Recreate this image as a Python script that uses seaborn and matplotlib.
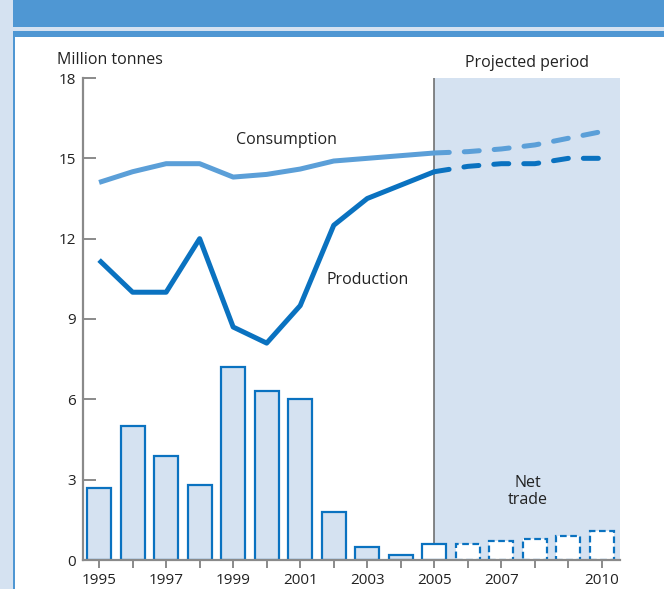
import matplotlib
matplotlib.use("Agg")
import matplotlib.pyplot as plt
from matplotlib.patches import Rectangle
import seaborn as sns
import pandas as pd

# Annual series, million tonnes
years = [1995, 1996, 1997, 1998, 1999, 2000, 2001, 2002, 2003, 2004, 2005,
         2006, 2007, 2008, 2009, 2010]
consumption = [14.1, 14.5, 14.8, 14.8, 14.3, 14.4, 14.6, 14.9, 15.0, 15.1, 15.2,
               15.25, 15.35, 15.5, 15.75, 16.0]
production = [11.2, 10.0, 10.0, 12.0, 8.7, 8.1, 9.5, 12.5, 13.5, 14.0, 14.5,
              14.7, 14.8, 14.8, 15.0, 15.0]
net_trade = [2.7, 5.0, 3.9, 2.8, 7.2, 6.3, 6.0, 1.8, 0.5, 0.2, 0.6,
             0.6, 0.7, 0.8, 0.9, 1.1]
last_actual = 2005
tick_labels = ["1995", "", "1997", "", "1999", "", "2001", "", "2003", "",
               "2005", "", "2007", "", "", "2010"]
y_ticks = [0, 3, 6, 9, 12, 15, 18]

df = pd.DataFrame({"year": years, "consumption": consumption,
                   "production": production, "net_trade": net_trade})
hist = df[df.year <= last_actual]
proj = df[df.year >= last_actual]

sns.set_style("white")
plt.rcParams["font.family"] = ["Open Sans", "DejaVu Sans"]

C_CONS = "#5b9fd8"
C_PROD = "#0a72c0"
C_SHADE = "#d5e2f1"
C_HEAD = "#4f97d3"
C_GREY = "#8a8a8a"
C_TEXT = "#222222"
FS_TICK = 11
FS_NOTE = 11.5

fig = plt.figure(figsize=(6.64, 5.89), dpi=100)
W, H = 664, 589

def px_rect(x0, y0, x1, y1, color):
    fig.patches.append(Rectangle((x0 / W, 1 - y1 / H), (x1 - x0) / W, (y1 - y0) / H,
                                 transform=fig.transFigure, facecolor=color,
                                 edgecolor="none", zorder=-10))

# page frame
px_rect(0, 0, W, H, C_SHADE)
px_rect(13, 0, W, 27, C_HEAD)
px_rect(13, 31, W, 37, C_HEAD)
px_rect(13, 31, 15, H, C_HEAD)
px_rect(15, 37, W, H, "white")

ax = fig.add_axes([83 / W, 1 - 560 / H, (620 - 83) / W, (560 - 78) / H])
ax.set_zorder(5)
ax.set_facecolor("none")
ax.set_axisbelow(False)

x0, x1 = 1994.52, 2010.54
ax.set_xlim(x0, x1)
ax.set_ylim(0, 18)

# projected period shading and divider
ax.axvspan(last_actual, x1, color=C_SHADE, zorder=0, lw=0)
ax.axvline(last_actual, color="#666666", lw=1.1, zorder=1)

# net trade bars
bw = 0.72
for yr, v in zip(years, net_trade):
    if yr < last_actual:
        ax.bar(yr, v, width=bw, facecolor=C_SHADE, edgecolor=C_PROD, lw=1.6, zorder=2)
    elif yr == last_actual:
        ax.bar(yr, v, width=bw, facecolor="white", edgecolor=C_PROD, lw=1.6, zorder=2)
    else:
        ax.bar(yr, v, width=bw, facecolor="white", edgecolor=C_PROD, lw=1.6,
               linestyle=(0, (3, 1.6)), zorder=2)

# lines: solid history, dashed projection
sns.lineplot(data=hist, x="year", y="consumption", ax=ax, color=C_CONS, lw=3.6,
             zorder=3, solid_capstyle="butt")
sns.lineplot(data=hist, x="year", y="production", ax=ax, color=C_PROD, lw=3.6,
             zorder=3, solid_capstyle="butt")
sns.lineplot(data=proj, x="year", y="consumption", ax=ax, color=C_CONS, lw=3.6,
             zorder=3, linestyle=(0, (3, 3)), dash_capstyle="round")
sns.lineplot(data=proj, x="year", y="production", ax=ax, color=C_PROD, lw=3.6,
             zorder=3, linestyle=(0, (3, 3)), dash_capstyle="round")

# axes styling
for s in ["top", "right"]:
    ax.spines[s].set_visible(False)
for s in ["left", "bottom"]:
    ax.spines[s].set_color(C_GREY)
    ax.spines[s].set_linewidth(1.6)
ax.set_xticks(years)
ax.set_xticklabels(tick_labels)
ax.set_yticks(y_ticks)
ax.tick_params(axis="x", bottom=True, direction="out", length=6, width=1.4,
               color=C_GREY, labelsize=FS_TICK, labelcolor=C_TEXT, pad=3)
ax.tick_params(axis="y", left=True, direction="in", length=9, width=1.4,
               color=C_GREY, labelsize=FS_TICK, labelcolor=C_TEXT, pad=5)
ax.set_xlabel("")
ax.set_ylabel("")

# annotations
fig.text(57 / W, 1 - 60 / H, "Million tonnes", fontsize=FS_NOTE, color=C_TEXT,
         va="center", ha="left")
fig.text(527 / W, 1 - 63 / H, "Projected period", fontsize=FS_NOTE, color=C_TEXT,
         va="center", ha="center")
ax.text(2000.6, 15.7, "Consumption", fontsize=FS_NOTE, color=C_TEXT, ha="center", va="center")
ax.text(2003.0, 10.45, "Production", fontsize=FS_NOTE, color=C_TEXT, ha="center", va="center")
ax.text(2007.8, 2.55, "Net\ntrade", fontsize=FS_NOTE, color=C_TEXT, ha="center",
        va="center", linespacing=1.05)

fig.savefig("out.png", dpi=100)
